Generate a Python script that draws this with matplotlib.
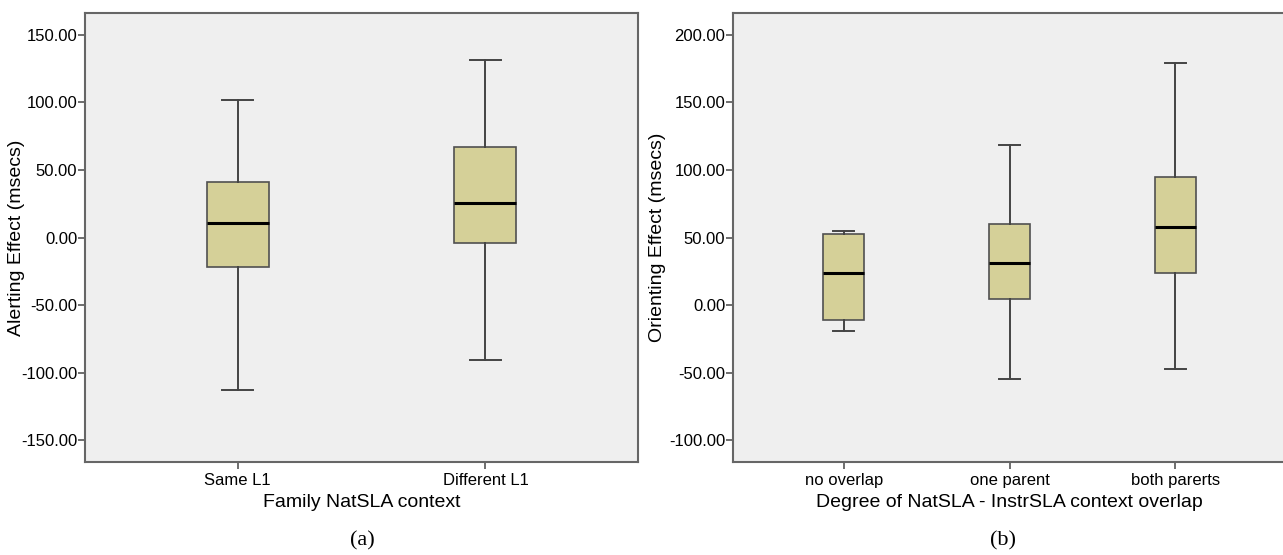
import matplotlib
matplotlib.use("Agg")
import matplotlib.pyplot as plt

# panel (a) - alerting effect
cats_a = ["Same L1", "Different L1"]
whislo_a = [-112.5, -90.5]
q1_a = [-22.0, -4.2]
med_a = [10.8, 25.5]
q3_a = [40.8, 67.0]
whishi_a = [102.0, 131.0]

# panel (b) - orienting effect
cats_b = ["no overlap", "one parent", "both parerts"]
whislo_b = [-18.9, -54.7, -47.1]
q1_b = [-11.3, 4.5, 23.4]
med_b = [23.7, 30.8, 57.4]
q3_b = [52.9, 59.7, 94.5]
whishi_b = [54.7, 118.4, 179.0]

ticks_a = [-150, -100, -50, 0, 50, 100, 150]
ticks_b = [-100, -50, 0, 50, 100, 150, 200]

plt.rcParams['font.family'] = ['Liberation Sans', 'DejaVu Sans']

fill = "#d5d098"
edge = "#505050"
bg = "#efefef"


def make_stats(lo, q1, med, q3, hi):
    return [dict(whislo=a, q1=b, med=c, q3=d, whishi=e, fliers=[])
            for a, b, c, d, e in zip(lo, q1, med, q3, hi)]


def draw(ax, stats, cats, ticks, ylim, xlim, ylabel, xlabel, ylab_x):
    ax.set_facecolor(bg)
    ax.bxp(stats, positions=range(1, len(cats) + 1), widths=0.25,
           patch_artist=True, showfliers=False,
           boxprops=dict(facecolor=fill, edgecolor=edge, linewidth=1.2),
           medianprops=dict(color="black", linewidth=2.2),
           whiskerprops=dict(color="#444444", linewidth=1.4),
           capprops=dict(color="#444444", linewidth=1.4))
    ax.set_xlim(*xlim)
    ax.set_ylim(*ylim)
    ax.set_yticks(ticks)
    ax.set_yticklabels(["%.2f" % t for t in ticks])
    ax.set_xticks(range(1, len(cats) + 1))
    ax.set_xticklabels(cats)
    ax.tick_params(axis="y", labelsize=12, length=5, width=1.2,
                   color="#555555", pad=0.5)
    ax.tick_params(axis="x", labelsize=12, length=5, width=1.2,
                   color="#555555", pad=3)
    for s in ax.spines.values():
        s.set_color("#666666")
        s.set_linewidth(1.5)
    ax.set_ylabel(ylabel, fontsize=14)
    ax.set_xlabel(xlabel, fontsize=14)
    ax.yaxis.set_label_coords(ylab_x, 0.5)
    ax.xaxis.set_label_coords(0.5, -0.071)


fig = plt.figure(figsize=(12.83, 5.55), dpi=100)
ax1 = fig.add_axes([85 / 1283, 93 / 555, 553 / 1283, 449 / 555])
ax2 = fig.add_axes([733 / 1283, 93 / 555, 553 / 1283, 449 / 555])

draw(ax1, make_stats(whislo_a, q1_a, med_a, q3_a, whishi_a), cats_a, ticks_a,
     (-166, 166), (0.385, 2.615), "Alerting Effect (msecs)",
     "Family NatSLA context", -0.108)
draw(ax2, make_stats(whislo_b, q1_b, med_b, q3_b, whishi_b), cats_b, ticks_b,
     (-116, 216), (0.333, 3.667), "Orienting Effect (msecs)",
     "Degree of NatSLA - InstrSLA context overlap", -0.122)

fig.text(362 / 1283, 1 - 541 / 555, "(a)", family="Liberation Serif",
         fontsize=16, ha="center", va="center")
fig.text(1003 / 1283, 1 - 541 / 555, "(b)", family="Liberation Serif",
         fontsize=16, ha="center", va="center")

fig.savefig("out.png", dpi=100)
